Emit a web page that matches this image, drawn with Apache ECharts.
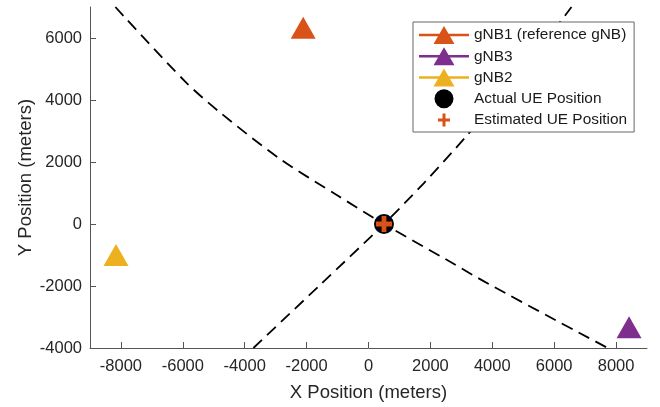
<!DOCTYPE html>
<html>
<head>
<meta charset="utf-8">
<script src="https://cdn.jsdelivr.net/npm/echarts@6/dist/echarts.min.js"></script>
<style>
html, body { margin: 0; padding: 0; background: #fff; }
#container { width: 660px; height: 407px; }
</style>
</head>
<body>
<div id="container"></div>
<script type="text/javascript">
var xTicks = [-8000, -6000, -4000, -2000, 0, 2000, 4000, 6000, 8000];
var yTicks = [-4000, -2000, 0, 2000, 4000, 6000];

var gnbNames = ['gNB1 (reference gNB)', 'gNB3', 'gNB2'];
var gnbX = [-2110, 8420, -8160];
var gnbY = [6330, -3330, -1000];

var ueActual = [500, 0];
var ueEstimated = [500, 0];

// dashed hyperbolas, points
var curve1X = [-8180, -5930, -4800, -2860, -1000, 500, 2500, 3910, 7730];
var curve1Y = [7000, 4600, 3600, 2100, 920, 0, -1140, -1950, -4000];
var curve2X = [-3720, -1570, 500, 1800, 3160, 5000, 6560];
var curve2Y = [-4000, -1970, 0, 1330, 2830, 4980, 7000];

var font = "'Liberation Sans', Arial, Helvetica, sans-serif";
var gnbColors = ['#D95319', '#7E2F8E', '#EDB120'];
var plusPath = 'path://M3.5,0H6.5V3.5H10V6.5H6.5V10H3.5V6.5H0V3.5H3.5Z';

// legend icons: 50x19 boxes, tiny corner marks fix the bounds
var box = 'M0,0L0.01,0L0,0.01Z M50,19L49.99,19L50,18.99Z ';
var triIcon = 'path://' + box + 'M0,8.25H50V10.75H0Z M14.5,18.5L25,0.5L35.5,18.5Z';
var dotIcon = 'path://' + box + 'M15.5,9.5A9.5,9.5 0 1,1 34.5,9.5A9.5,9.5 0 1,1 15.5,9.5Z';
var plusIcon = 'path://' + box + 'M23.5,3H26.5V8H31V11H26.5V16H23.5V11H19V8H23.5Z';

function zip(xs, ys) {
    var out = [];
    for (var i = 0; i < xs.length; i++) out.push([xs[i], ys[i]]);
    return out;
}

var dom = document.getElementById('container');
var myChart = echarts.init(dom, null, { renderer: 'canvas' });

var series = [];
[[curve1X, curve1Y], [curve2X, curve2Y]].forEach(function (c) {
    series.push({
        type: 'line',
        data: zip(c[0], c[1]),
        smooth: 0.3,
        symbol: 'none',
        silent: true,
        z: 1,
        lineStyle: { color: '#000', width: 1.8, type: [12, 7] }
    });
});
var legendData = [];
for (var i = 0; i < gnbNames.length; i++) {
    series.push({
        name: gnbNames[i],
        type: 'scatter',
        data: [[gnbX[i], gnbY[i]]],
        symbol: 'triangle',
        symbolSize: [25, 22],
        itemStyle: { color: gnbColors[i], opacity: 1 }
    });
    legendData.push({ name: gnbNames[i], icon: triIcon });
}
series.push({
    name: 'Actual UE Position',
    type: 'scatter',
    data: [ueActual],
    symbol: 'circle',
    symbolSize: 20,
    itemStyle: { color: '#000', opacity: 1 },
    z: 3
});
series.push({
    name: 'Estimated UE Position',
    type: 'scatter',
    data: [ueEstimated],
    symbol: plusPath,
    symbolSize: 16,
    itemStyle: { color: '#D95319', opacity: 1 },
    z: 4
});
legendData.push({ name: 'Actual UE Position', icon: dotIcon });
legendData.push({ name: 'Estimated UE Position', icon: plusIcon });

var tickFmt = function (v) { return String(v); };

var option = {
    animation: false,
    backgroundColor: '#fff',
    grid: { left: 90, right: 13, top: 7, bottom: 59 },
    legend: {
        data: legendData,
        orient: 'vertical',
        left: 413,
        top: 22,
        padding: [3.5, 7, 2.5, 6],
        itemWidth: 50,
        itemHeight: 19,
        itemGap: 2.25,
        backgroundColor: '#fff',
        borderColor: '#666',
        borderWidth: 1,
        textStyle: { fontSize: 15.4, color: '#1a1a1a', fontFamily: font }
    },
    xAxis: {
        type: 'value',
        min: -9000,
        max: 9000,
        name: 'X Position (meters)',
        nameLocation: 'middle',
        nameGap: 35,
        nameMoveOverlap: false,
        nameTextStyle: { fontSize: 18.5, color: '#262626', fontFamily: font },
        axisLine: { show: true, onZero: false, lineStyle: { color: '#555', width: 1 } },
        axisTick: { show: true, inside: true, length: 6, customValues: xTicks, lineStyle: { color: '#555' } },
        axisLabel: { customValues: xTicks, formatter: tickFmt, fontSize: 16.5, color: '#262626', margin: 10, fontFamily: font },
        splitLine: { show: false }
    },
    yAxis: {
        type: 'value',
        min: -4000,
        max: 7000,
        name: 'Y Position (meters)',
        nameLocation: 'middle',
        nameRotate: 90,
        nameGap: 55,
        nameMoveOverlap: false,
        nameTextStyle: { fontSize: 18.5, color: '#262626', fontFamily: font },
        axisLine: { show: true, onZero: false, lineStyle: { color: '#555', width: 1 } },
        axisTick: { show: true, inside: true, length: 6, customValues: yTicks, lineStyle: { color: '#555' } },
        axisLabel: { customValues: yTicks, formatter: tickFmt, fontSize: 16.5, color: '#262626', margin: 8, fontFamily: font },
        splitLine: { show: false }
    },
    series: series
};

if (option && typeof option === 'object') {
    myChart.setOption(option);
}
</script>
</body>
</html>
